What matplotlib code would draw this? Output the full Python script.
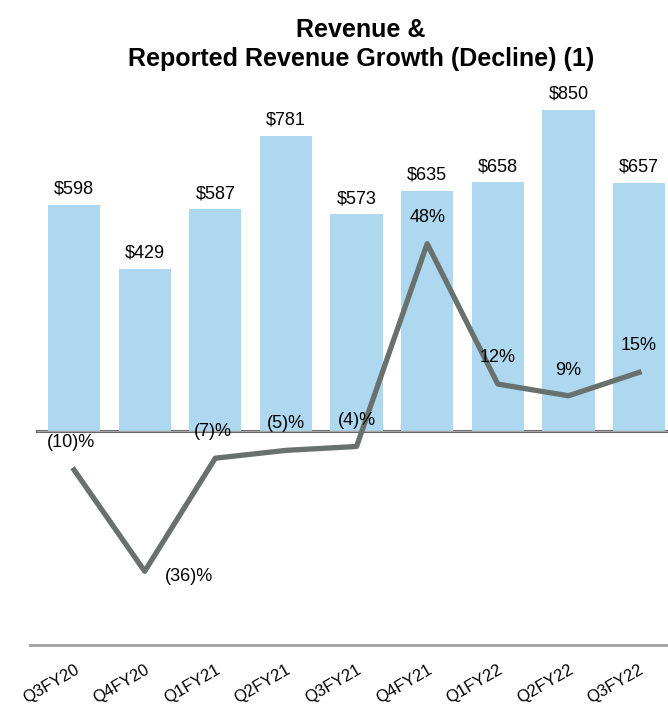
import matplotlib
matplotlib.use("Agg")
import matplotlib.pyplot as plt

quarters = ["Q3FY20", "Q4FY20", "Q1FY21", "Q2FY21", "Q3FY21",
            "Q4FY21", "Q1FY22", "Q2FY22", "Q3FY22"]
revenue = [598, 429, 587, 781, 573, 635, 658, 850, 657]
growth = [-10, -36, -7, -5, -4, 48, 12, 9, 15]
growth_labels = ["(10)%", "(36)%", "(7)%", "(5)%", "(4)%", "48%", "12%", "9%", "15%"]
# label offsets in points (dx, dy) relative to each line point
label_offsets = [(-2, 20), (32, -4), (-2, 19), (0, 19), (0, 19), (0, 19), (0, 19), (0, 18), (0, 19)]

plt.rcParams['font.family'] = ['Liberation Sans', 'DejaVu Sans']

fig = plt.figure(figsize=(6.68, 7.07), dpi=100)
ax = fig.add_axes([0.045, 0.0877, 0.955, 0.785])
x = list(range(len(quarters)))

ax.bar(x, revenue, width=0.74, color="#aed8f0", zorder=2)
for xi, v in zip(x, revenue):
    ax.annotate(f"${v}", (xi, v), xytext=(0, 5), textcoords="offset points",
                ha="center", va="bottom", fontsize=13)

ax.set_xlim(-0.623, 8.41)
ax.set_ylim(-566, 902)
ax.axhline(0, xmin=0.011, xmax=1, color="#5a5a5a", lw=2.2, zorder=1)
ax.axhline(0, xmin=0.011, xmax=1, color="#a8a8a8", lw=1, zorder=2.5)

for s in ["top", "left", "right"]:
    ax.spines[s].set_visible(False)
ax.spines["bottom"].set_color("#a0a0a0")
ax.spines["bottom"].set_linewidth(2)
ax.set_yticks([])
ax.set_xticks(x)
ax.set_xticklabels(quarters, rotation=30, ha="right", rotation_mode="anchor", fontsize=12)
ax.tick_params(axis="x", length=0, pad=12)

ax2 = ax.twinx()
ax2.set_ylim(-54.9, 87.4)
ax2.plot(x, growth, color="#69716e", lw=3.8, zorder=3)
for xi, g, lab, off in zip(x, growth, growth_labels, label_offsets):
    ax2.annotate(lab, (xi, g), xytext=off, textcoords="offset points",
                 ha="center", va="center", fontsize=13)
ax2.set_yticks([])
for s in ax2.spines.values():
    s.set_visible(False)

fig.text(0.54, 0.937, "Revenue &\nReported Revenue Growth (Decline) (1)",
         ha="center", va="center", fontsize=18, fontweight="bold", linespacing=1.25)

fig.savefig("out.png", dpi=100)
